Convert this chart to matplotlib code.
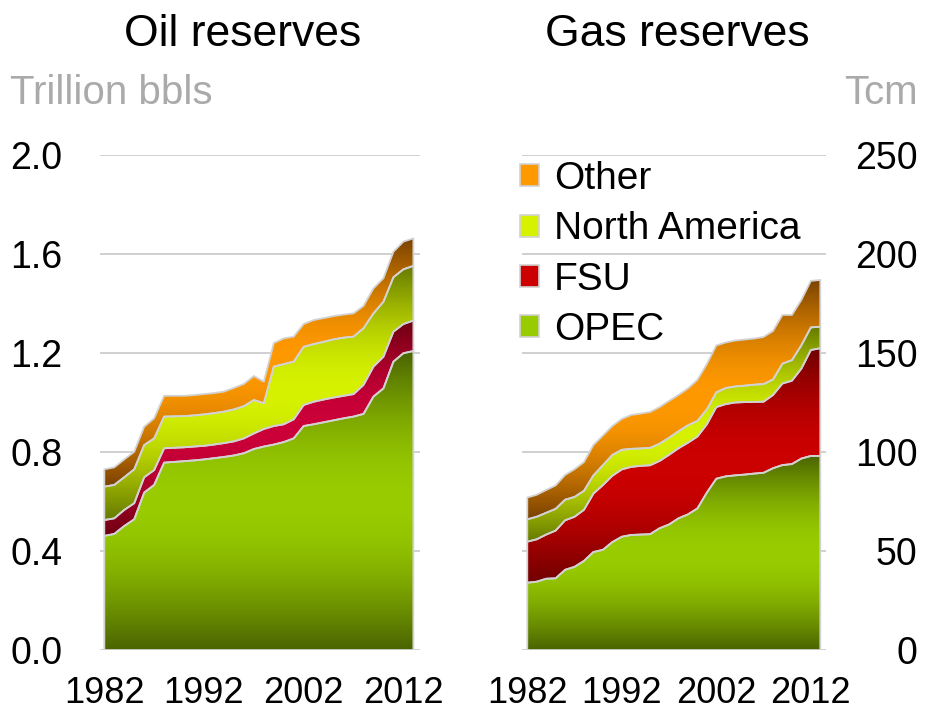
import numpy as np
import matplotlib
matplotlib.use('Agg')
import matplotlib.pyplot as plt
from matplotlib.patches import Patch
from matplotlib.colors import to_rgb

plt.rcParams['font.family'] = ['Liberation Sans', 'DejaVu Sans']

years = list(range(1982, 2014))
x_ticks = [1982, 1992, 2002, 2012]

# oil reserves, trillion barrels
oil_opec = [0.461, 0.469, 0.501, 0.528, 0.636, 0.667, 0.757, 0.760, 0.763, 0.766, 0.770,
            0.775, 0.780, 0.786, 0.795, 0.812, 0.822, 0.830, 0.840, 0.855, 0.905, 0.912,
            0.920, 0.928, 0.936, 0.943, 0.954, 1.024, 1.057, 1.165, 1.199, 1.208]
oil_fsu = [0.064, 0.063, 0.065, 0.065, 0.062, 0.060, 0.058, 0.057, 0.056, 0.056, 0.055,
           0.055, 0.056, 0.057, 0.060, 0.063, 0.071, 0.075, 0.072, 0.077, 0.085, 0.091,
           0.092, 0.092, 0.091, 0.091, 0.117, 0.121, 0.128, 0.121, 0.118, 0.123]
oil_na = [0.135, 0.135, 0.132, 0.137, 0.130, 0.128, 0.128, 0.127, 0.126, 0.126, 0.127,
          0.127, 0.127, 0.129, 0.130, 0.135, 0.104, 0.240, 0.243, 0.233, 0.235, 0.233,
          0.233, 0.235, 0.235, 0.232, 0.229, 0.215, 0.222, 0.220, 0.221, 0.221]
oil_other = [0.070, 0.071, 0.072, 0.071, 0.074, 0.081, 0.084, 0.083, 0.082, 0.082, 0.082,
             0.081, 0.081, 0.087, 0.090, 0.097, 0.087, 0.095, 0.104, 0.101, 0.092, 0.097,
             0.096, 0.094, 0.093, 0.094, 0.090, 0.101, 0.095, 0.103, 0.112, 0.111]

# gas reserves, Tcm
gas_opec = [34.0, 34.5, 36.0, 36.2, 40.5, 42.0, 45.0, 49.5, 50.6, 54.5, 57.2, 58.1, 58.3,
            58.5, 61.5, 63.4, 66.5, 68.5, 71.5, 79.5, 86.5, 87.7, 88.2, 88.6, 89.1, 89.5,
            91.8, 93.4, 93.9, 96.7, 98.0, 98.0]
gas_fsu = [20.7, 21.4, 22.3, 24.1, 25.0, 25.3, 25.8, 29.5, 32.7, 33.5, 34.0, 34.4, 34.7,
           34.8, 34.0, 35.2, 35.4, 36.2, 36.3, 34.5, 36.2, 36.5, 36.8, 36.6, 36.2, 35.9,
           37.0, 41.2, 42.1, 45.4, 53.5, 54.4]
gas_na = [11.3, 11.4, 11.0, 11.0, 10.4, 10.0, 9.6, 9.2, 10.0, 10.5, 9.9, 9.1, 8.8, 8.8,
          8.7, 8.6, 8.6, 8.8, 7.9, 7.5, 7.4, 8.1, 8.1, 8.3, 8.7, 8.9, 7.8, 10.0, 10.4,
          11.8, 11.4, 10.9]
gas_other = [11.0, 11.1, 11.5, 11.8, 12.5, 14.0, 14.5, 15.3, 15.0, 14.6, 15.6, 17.1, 17.6,
             18.1, 18.5, 18.6, 18.3, 18.6, 20.7, 22.9, 23.7, 23.0, 23.2, 23.3, 23.3, 23.8,
             24.5, 24.6, 22.8, 22.9, 23.5, 23.6]

names = ['OPEC', 'FSU', 'North America', 'Other']

# (dark, bright) pairs for the reflected gradients
oil_cols = [('#4a6400', '#99cc00'), ('#6e0010', '#cc003a'),
            ('#667a00', '#d6f200'), ('#7a4200', '#ff9900')]
gas_cols = [('#4a6400', '#99cc00'), ('#700000', '#cc0000'),
            ('#667a00', '#d6f200'), ('#7a4200', '#ff9900')]
edge = '#d2d2d2'
grid_c = '#c8c8c8'


def grad_fill(ax, x, lo, hi, dark, bright):
    poly = ax.fill_between(x, lo, hi, facecolor='none', edgecolor='none')
    t = np.linspace(0, 1, 300)
    f = np.sin(np.pi * t)
    d = np.array(to_rgb(dark))
    b = np.array(to_rgb(bright))
    img = (d + (b - d) * f[:, None])[:, None, :]
    im = ax.imshow(img, extent=[x[0], x[-1], min(lo), max(hi)], origin='lower',
                   aspect='auto', interpolation='bilinear', zorder=2)
    im.set_clip_path(poly.get_paths()[0], ax.transData)
    ax.fill_between(x, lo, hi, facecolor='none', edgecolor=edge, lw=1.3, zorder=3)


def stack_plot(ax, series, cols):
    x = np.array(years, dtype=float)
    base = np.zeros(len(x))
    for vals, (dk, br) in zip(series, cols):
        top = base + np.array(vals)
        grad_fill(ax, x, base, top, dk, br)
        base = top


fig = plt.figure(figsize=(9.27, 7.10), dpi=100)
ax1 = fig.add_axes([0.1077, 0.0845, 0.3452, 0.6972])
ax2 = fig.add_axes([0.5634, 0.0845, 0.3273, 0.6972])

stack_plot(ax1, [oil_opec, oil_fsu, oil_na, oil_other], oil_cols)
stack_plot(ax2, [gas_opec, gas_fsu, gas_na, gas_other], gas_cols)

ax1.set_xlim(1981.55, 2013.65)
ax1.set_ylim(0, 2.0)
ax1.set_yticks([0.0, 0.4, 0.8, 1.2, 1.6, 2.0])
ax1.set_yticklabels(['0.0', '0.4', '0.8', '1.2', '1.6', '2.0'])

ax2.set_xlim(1981.47, 2013.57)
ax2.set_ylim(0, 250)
ax2.set_yticks([0, 50, 100, 150, 200, 250])
ax2.yaxis.tick_right()

for ax in (ax1, ax2):
    ax.set_xticks(x_ticks)
    ax.set_xticklabels([str(y) for y in x_ticks])
    for s in ax.spines.values():
        s.set_visible(False)
    ax.grid(axis='y', color=grid_c, lw=1.2, zorder=0)
    ax.set_axisbelow(True)
    ax.tick_params(length=0, labelsize=27)
    ax.tick_params(axis='x', pad=19, labelsize=26)

ax1.tick_params(axis='y', pad=27)
ax2.tick_params(axis='y', pad=66)
for lbl in ax2.get_yticklabels():
    lbl.set_ha('right')

fig.text(243 / 927, 1 - 35 / 710, 'Oil reserves', ha='center', va='center', fontsize=32)
fig.text(677 / 927, 1 - 35 / 710, 'Gas reserves', ha='center', va='center', fontsize=32)
fig.text(10 / 927, 1 - 93 / 710, 'Trillion bbls', ha='left', va='center', fontsize=29,
         color='#aaaaaa')
fig.text(918 / 927, 1 - 93 / 710, 'Tcm', ha='right', va='center', fontsize=29,
         color='#aaaaaa')

handles = [Patch(facecolor=gas_cols[i][1], edgecolor=edge, lw=1.2) for i in (3, 2, 1, 0)]
labels = [names[i] for i in (3, 2, 1, 0)]
ax2.legend(handles, labels, loc='upper left', bbox_to_anchor=(520 / 927, 1 - 161 / 710),
           bbox_transform=fig.transFigure, frameon=False, fontsize=28,
           borderpad=0, borderaxespad=0, handlelength=0.5, handleheight=0.5,
           handletextpad=0.38, labelspacing=0.37)

fig.savefig('out.png', dpi=100)
